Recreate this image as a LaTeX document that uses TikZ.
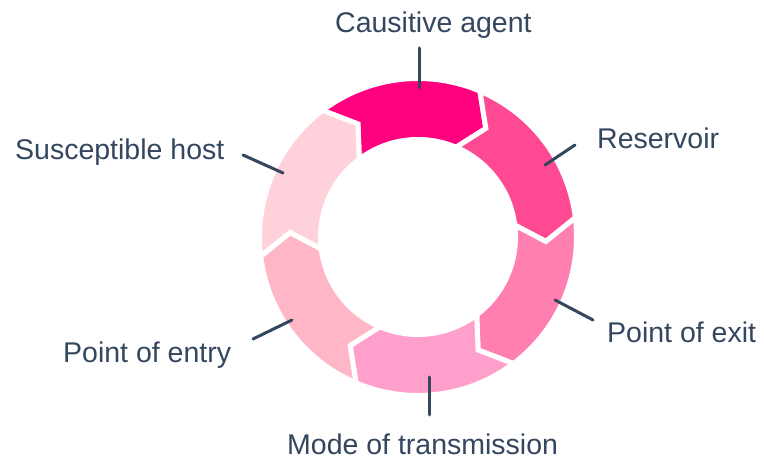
\documentclass[tikz,border=0pt]{standalone}
\usepackage{fontspec}
\setmainfont{Liberation Sans}
\definecolor{txt}{HTML}{34475F}
\definecolor{cA}{HTML}{FF007F}
\definecolor{cB}{HTML}{FF4A93}
\definecolor{cC}{HTML}{FF7FB0}
\definecolor{cD}{HTML}{FF9FCC}
\definecolor{cE}{HTML}{FFB7C8}
\definecolor{cF}{HTML}{FFD2DB}
\begin{document}
\begin{tikzpicture}[x=1pt,y=1pt,
  lbl/.style={anchor=base west, inner sep=0pt, text=txt, font=\fontsize{28.5}{34}\selectfont},
  conn/.style={draw=txt, line width=3pt, line cap=round},
  seg/.style={draw=white, line width=5pt, line join=miter}]
\fill[white] (0,0) rectangle (764,463);
\useasboundingbox (0,0) rectangle (764,463);
\begin{scope}[shift={(418,226)}]
\foreach \k/\col in {0/cA,1/cB,2/cC,3/cD,4/cE,5/cF}{
  \pgfmathsetmacro\a{127-60*\k}
  \pgfmathsetmacro\b{\a-60}
  \pgfmathsetmacro\bt{\b-9}
  \pgfmathsetmacro\at{\a-9}
  \filldraw[seg, fill=\col] (\a:158.5) arc[start angle=\a, end angle=\b, radius=158.5]
     -- (\bt:128) -- (\b:97.5) arc[start angle=\b, end angle=\a, radius=97.5]
     -- (\at:128) -- cycle;
}
\end{scope}
% labels
\node[lbl] (lA) at (335,430) {Causitive agent};
\node[lbl] (lB) at (597,314) {Reservoir};
\node[lbl] (lC) at (607,120) {Point of exit};
\node[lbl] (lD) at (287,8) {Mode of transmission};
\node[lbl] (lE) at (63,100) {Point of entry};
\node[lbl] (lF) at (15,303) {Susceptible host};
% connector ends
\coordinate (a1) at (419,415); \coordinate (a2) at (419,375);
\coordinate (b1) at (575,318); \coordinate (b2) at (545,298);
\coordinate (c1) at (555,163); \coordinate (c2) at (593,143);
\coordinate (d1) at (429,86);  \coordinate (d2) at (429,48);
\coordinate (e1) at (253,124); \coordinate (e2) at (292,143);
\coordinate (f1) at (243,308); \coordinate (f2) at (283,290);
\draw[conn] (a1) -- (a2);
\draw[conn] (b1) -- (b2);
\draw[conn] (c1) -- (c2);
\draw[conn] (d1) -- (d2);
\draw[conn] (e1) -- (e2);
\draw[conn] (f1) -- (f2);
\end{tikzpicture}
\end{document}
